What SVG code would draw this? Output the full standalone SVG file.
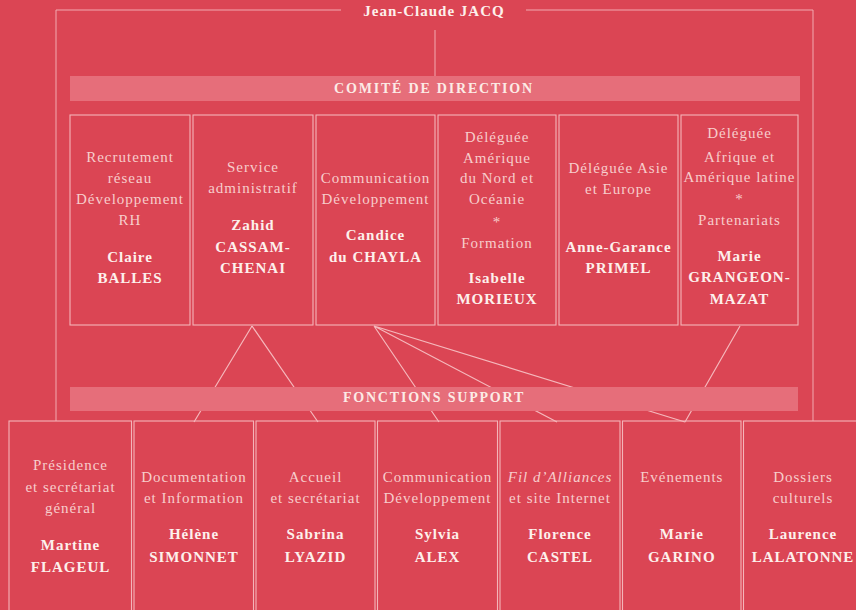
<svg xmlns="http://www.w3.org/2000/svg" width="856" height="610" viewBox="0 0 856 610">
<style>
.bg{fill:#db4554}
.frame{fill:none;stroke:#f2aab0;stroke-width:1}
.conn{fill:none;stroke:#f5b8bc;stroke-width:1.2}
.bar{fill:#e66e7a}
.box{fill:none;stroke:#f4b4b8;stroke-width:1.1}
text{font-family:"Liberation Serif","Times New Roman",serif;text-anchor:middle;font-size:15px;letter-spacing:1px}
.r{fill:#f7cdcc}
.b{fill:#fdf0ec;font-weight:bold}
.i{font-style:italic}
.title{fill:#fdf0ec;font-weight:bold;font-size:15px}
.bart{fill:#fcebe6;font-weight:bold;font-size:14px;letter-spacing:1.8px}
</style>
<rect class="bg" x="0" y="0" width="856" height="610"/>

<g id="frame">
<path class="frame" d="M341,10 H56 V421 M526,10 H813 V421 M435,30 V76"/>
</g>

<g id="connectors">
<path class="conn" d="M252,326 L194,422 M252,326 L318,422 M374,326 L439,422 M374,326 L557,422 M374,326 L685,422 M740,326 L685,422"/>
</g>

<g id="top">
<text class="title" x="434" y="16">Jean-Claude JACQ</text>
</g>

<g id="comite-bar">
<rect class="bar" x="70" y="76" width="730" height="25"/>
<text class="bart" x="434" y="93">COMITÉ DE DIRECTION</text>
</g>

<g id="support-bar">
<rect class="bar" x="70" y="387" width="728" height="24"/>
<text class="bart" x="434" y="402">FONCTIONS SUPPORT</text>
</g>

<g id="c1">
<rect class="box" x="70" y="115" width="120" height="210"/>
<text class="r" x="130" y="162">Recrutement</text>
<text class="r" x="130" y="183">réseau</text>
<text class="r" x="130" y="204">Développement</text>
<text class="r" x="130" y="225">RH</text>
<text class="b" x="130" y="262">Claire</text>
<text class="b" x="130" y="283">BALLES</text>
</g>
<g id="c2">
<rect class="box" x="193" y="115" width="120" height="210"/>
<text class="r" x="253" y="172">Service</text>
<text class="r" x="253" y="193">administratif</text>
<text class="b" x="253" y="230">Zahid</text>
<text class="b" x="253" y="252">CASSAM-</text>
<text class="b" x="253" y="273">CHENAI</text>
</g>
<g id="c3">
<rect class="box" x="316" y="115" width="119" height="210"/>
<text class="r" x="375.5" y="183">Communication</text>
<text class="r" x="375.5" y="204">Développement</text>
<text class="b" x="375.5" y="240">Candice</text>
<text class="b" x="375.5" y="262">du CHAYLA</text>
</g>
<g id="c4">
<rect class="box" x="438" y="115" width="118" height="210"/>
<text class="r" x="497" y="142">Déléguée</text>
<text class="r" x="497" y="163">Amérique</text>
<text class="r" x="497" y="183">du Nord et</text>
<text class="r" x="497" y="204">Océanie</text>
<text class="r" x="497" y="227">*</text>
<text class="r" x="497" y="248">Formation</text>
<text class="b" x="497" y="283">Isabelle</text>
<text class="b" x="497" y="304">MORIEUX</text>
</g>
<g id="c5">
<rect class="box" x="559" y="115" width="119" height="210"/>
<text class="r" x="618.5" y="173">Déléguée Asie</text>
<text class="r" x="618.5" y="194">et Europe</text>
<text class="b" x="618.5" y="252">Anne-Garance</text>
<text class="b" x="618.5" y="273">PRIMEL</text>
</g>
<g id="c6">
<rect class="box" x="681" y="115" width="117" height="210"/>
<text class="r" x="739.5" y="138">Déléguée</text>
<text class="r" x="739.5" y="162">Afrique et</text>
<text class="r" x="739.5" y="182">Amérique latine</text>
<text class="r" x="739.5" y="204">*</text>
<text class="r" x="739.5" y="225">Partenariats</text>
<text class="b" x="739.5" y="261">Marie</text>
<text class="b" x="739.5" y="282">GRANGEON-</text>
<text class="b" x="739.5" y="304">MAZAT</text>
</g>

<g id="s1">
<rect class="box" x="9" y="421" width="122.5" height="200"/>
<text class="r" x="70.5" y="470">Présidence</text>
<text class="r" x="70.5" y="492">et secrétariat</text>
<text class="r" x="70.5" y="513">général</text>
<text class="b" x="70.5" y="550">Martine</text>
<text class="b" x="70.5" y="572">FLAGEUL</text>
</g>
<g id="s2">
<rect class="box" x="134" y="421" width="119.5" height="200"/>
<text class="r" x="194" y="482">Documentation</text>
<text class="r" x="194" y="503">et Information</text>
<text class="b" x="194" y="539">Hélène</text>
<text class="b" x="194" y="562">SIMONNET</text>
</g>
<g id="s3">
<rect class="box" x="256" y="421" width="119" height="200"/>
<text class="r" x="315.5" y="482">Accueil</text>
<text class="r" x="315.5" y="503">et secrétariat</text>
<text class="b" x="315.5" y="539">Sabrina</text>
<text class="b" x="315.5" y="562">LYAZID</text>
</g>
<g id="s4">
<rect class="box" x="377.5" y="421" width="120" height="200"/>
<text class="r" x="437.5" y="482">Communication</text>
<text class="r" x="437.5" y="503">Développement</text>
<text class="b" x="437.5" y="539">Sylvia</text>
<text class="b" x="437.5" y="562">ALEX</text>
</g>
<g id="s5">
<rect class="box" x="500" y="421" width="120" height="200"/>
<text class="r i" x="560" y="482">Fil d’Alliances</text>
<text class="r" x="560" y="503">et site Internet</text>
<text class="b" x="560" y="539">Florence</text>
<text class="b" x="560" y="562">CASTEL</text>
</g>
<g id="s6">
<rect class="box" x="622.5" y="421" width="118.5" height="200"/>
<text class="r" x="681.8" y="482">Evénements</text>
<text class="b" x="681.8" y="539">Marie</text>
<text class="b" x="681.8" y="562">GARINO</text>
</g>
<g id="s7">
<rect class="box" x="743.5" y="421" width="120" height="200"/>
<text class="r" x="803" y="482">Dossiers</text>
<text class="r" x="803" y="503">culturels</text>
<text class="b" x="803" y="539">Laurence</text>
<text class="b" x="803" y="562">LALATONNE</text>
</g>
</svg>
